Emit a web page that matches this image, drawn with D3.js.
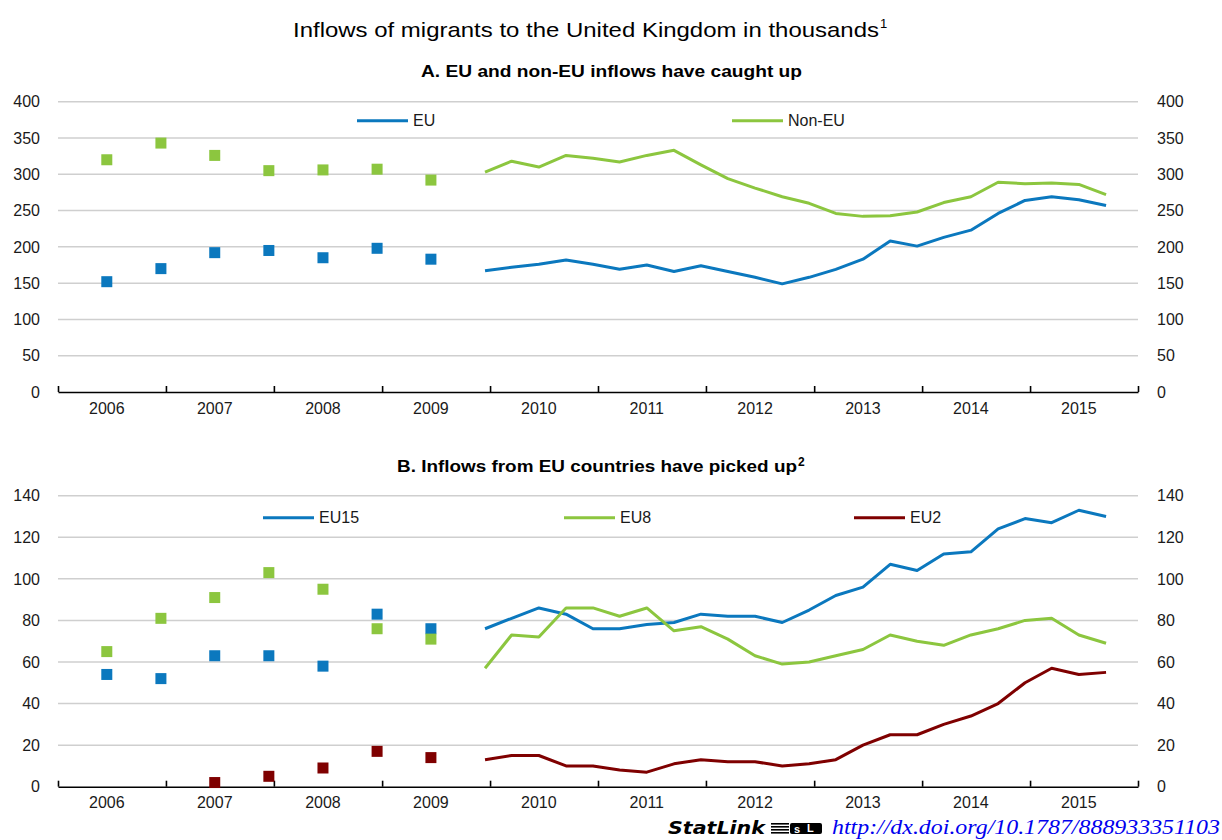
<!DOCTYPE html>
<html>
<head>
<meta charset="utf-8">
<script src="https://d3js.org/d3.v7.min.js"></script>
<style>
  body { margin: 0; background: #fff; }
  svg { display: block; font-family: "Liberation Sans", Arial, sans-serif; }
</style>
</head>
<body>
<div class="graphics"></div>
<script>
// periods: half-yearly squares first, then quarterly lines
var squarePeriods = ["2006-06", "2006-12", "2007-06", "2007-12", "2008-06", "2008-12", "2009-06"];
var linePeriods = ["2009-12",
  "2010-03", "2010-06", "2010-09", "2010-12",
  "2011-03", "2011-06", "2011-09", "2011-12",
  "2012-03", "2012-06", "2012-09", "2012-12",
  "2013-03", "2013-06", "2013-09", "2013-12",
  "2014-03", "2014-06", "2014-09", "2014-12",
  "2015-03", "2015-06", "2015-09"];
var years = [2006, 2007, 2008, 2009, 2010, 2011, 2012, 2013, 2014, 2015];

// Panel A
var euSquares = [152, 170, 192, 195, 185, 198, 183];
var nonEuSquares = [320, 343, 326, 305, 306, 307, 292];
var euLine = [167, 172, 176, 182, 176, 169, 175, 166, 174, 166, 158, 149,
  158, 169, 183, 208, 201, 213, 223, 246, 264, 269, 265, 257];
var nonEuLine = [303, 318, 310, 326, 322, 317, 326, 333, 313, 294, 281, 269,
  260, 246, 242, 243, 248, 261, 269, 289, 287, 288, 286, 272];
var ticksA = [0, 50, 100, 150, 200, 250, 300, 350, 400];

// Panel B
var eu15Squares = [54, 52, 63, 63, 58, 83, 76];
var eu8Squares = [65, 81, 91, 103, 95, 76, 71];
var eu2Squares = [null, null, 2, 5, 9, 17, 14];
var eu15Line = [76, 81, 86, 83, 76, 76, 78, 79, 83, 82, 82, 79,
  85, 92, 96, 107, 104, 112, 113, 124, 129, 127, 133, 130];
var eu8Line = [57, 73, 72, 86, 86, 82, 86, 75, 77, 71, 63, 59,
  60, 63, 66, 73, 70, 68, 73, 76, 80, 81, 73, 69];
var eu2Line = [13, 15, 15, 10, 10, 8, 7, 11, 13, 12, 12, 10,
  11, 13, 20, 25, 25, 30, 34, 40, 50, 57, 54, 55];
var ticksB = [0, 20, 40, 60, 80, 100, 120, 140];

var BLUE = "#0b78be", GREEN = "#8cc63f", RED = "#7f0000";

var W = 1222, H = 840;
var svg = d3.select(".graphics").append("svg")
  .attr("width", W).attr("height", H);

// each period sits at the middle of its month
function parsePeriod(p) {
  var parts = p.split("-");
  return new Date(+parts[0], +parts[1] - 1, 15);
}

var x = d3.scaleTime()
  .domain([new Date(2006, 0, 1), new Date(2016, 0, 1)])
  .range([58, 1138]);

// main title (narrow face in the original, so stretch it to its width)
svg.append("text")
  .attr("x", 293).attr("y", 37)
  .attr("textLength", 586).attr("lengthAdjust", "spacingAndGlyphs")
  .style("font-size", "21px")
  .text("Inflows of migrants to the United Kingdom in thousands");
svg.append("text")
  .attr("x", 880).attr("y", 28)
  .style("font-size", "13px")
  .text("1");

function panel(opts) {
  var y = d3.scaleLinear().domain(opts.domain).range([opts.bottom, opts.top]);
  var g = svg.append("g");

  g.append("text")
    .attr("x", opts.subX).attr("y", opts.subY)
    .attr("textLength", opts.subW).attr("lengthAdjust", "spacingAndGlyphs")
    .style("font-size", "17px").style("font-weight", "bold")
    .text(opts.subtitle);
  if (opts.sup) {
    g.append("text")
      .attr("x", opts.subX + opts.subW + 1).attr("y", opts.subY - 6)
      .style("font-size", "12px").style("font-weight", "bold")
      .text(opts.sup);
  }

  // gridlines
  g.selectAll(".grid")
    .data(opts.ticks.filter(function(d) { return d > 0; }))
    .enter().append("line")
    .attr("x1", x.range()[0]).attr("x2", x.range()[1])
    .attr("y1", function(d) { return y(d); })
    .attr("y2", function(d) { return y(d); })
    .attr("stroke", "#cfcfcf").attr("stroke-width", 1.5);

  // y labels both sides
  [{ xp: 40, anchor: "end" }, { xp: 1157, anchor: "start" }].forEach(function(side) {
    g.selectAll(null)
      .data(opts.ticks)
      .enter().append("text")
      .attr("x", side.xp)
      .attr("y", function(d) { return y(d); })
      .attr("dy", "0.36em")
      .attr("text-anchor", side.anchor)
      .style("font-size", "16px").style("fill", "#1a1a1a")
      .text(function(d) { return d; });
  });

  // x axis line with upward ticks at year boundaries
  var yearStarts = years.map(function(yr) { return new Date(yr, 0, 1); })
    .concat([new Date(2016, 0, 1)]);
  var ax = g.append("g")
    .attr("transform", "translate(0," + opts.bottom + ")")
    .call(d3.axisBottom(x).tickValues(yearStarts).tickSize(-6).tickSizeOuter(0).tickFormat(""));
  ax.select(".domain").attr("stroke", "#000").attr("stroke-width", 1.6);
  ax.selectAll(".tick line").attr("stroke", "#000").attr("stroke-width", 1.6);

  // year labels at mid-year
  g.selectAll(null)
    .data(years)
    .enter().append("text")
    .attr("x", function(d) { return x(new Date(d, 5, 15)); })
    .attr("y", opts.bottom + 16)
    .attr("dy", "0.36em")
    .attr("text-anchor", "middle")
    .style("font-size", "16px").style("fill", "#1a1a1a")
    .text(function(d) { return d; });

  var line = d3.line()
    .defined(function(d) { return d.v != null; })
    .x(function(d) { return x(parsePeriod(d.p)); })
    .y(function(d) { return y(d.v); });

  opts.series.forEach(function(s) {
    var pts = linePeriods.map(function(p, i) { return { p: p, v: s.line[i] }; });
    g.append("path")
      .datum(pts)
      .attr("d", line)
      .attr("fill", "none")
      .attr("stroke", s.color)
      .attr("stroke-width", 3)
      .attr("stroke-linejoin", "round");

    var sq = squarePeriods.map(function(p, i) { return { p: p, v: s.squares[i] }; })
      .filter(function(d) { return d.v != null; });
    g.selectAll(null)
      .data(sq)
      .enter().append("rect")
      .attr("x", function(d) { return x(parsePeriod(d.p)) - 5.5; })
      .attr("y", function(d) { return y(d.v) - 5.5; })
      .attr("width", 11).attr("height", 11)
      .attr("fill", s.color);

    // legend
    g.append("line")
      .attr("x1", s.lx).attr("x2", s.lx + 51)
      .attr("y1", opts.legendY).attr("y2", opts.legendY)
      .attr("stroke", s.color).attr("stroke-width", 3);
    g.append("text")
      .attr("x", s.lx + 56).attr("y", opts.legendY)
      .attr("dy", "0.36em")
      .style("font-size", "16px").style("fill", "#1a1a1a")
      .text(s.name);
  });
}

panel({
  domain: [0, 400], ticks: ticksA, top: 101.7, bottom: 392,
  subtitle: "A. EU and non-EU inflows have caught up", subX: 421, subW: 381, subY: 77,
  legendY: 120.7,
  series: [
    { name: "EU", color: BLUE, line: euLine, squares: euSquares, lx: 357 },
    { name: "Non-EU", color: GREEN, line: nonEuLine, squares: nonEuSquares, lx: 732 }
  ]
});

panel({
  domain: [0, 140], ticks: ticksB, top: 495.7, bottom: 786.7,
  subtitle: "B. Inflows from EU countries have picked up", sup: "2", subX: 397, subW: 400, subY: 472,
  legendY: 517.7,
  series: [
    { name: "EU15", color: BLUE, line: eu15Line, squares: eu15Squares, lx: 263 },
    { name: "EU8", color: GREEN, line: eu8Line, squares: eu8Squares, lx: 564 },
    { name: "EU2", color: RED, line: eu2Line, squares: eu2Squares, lx: 854 }
  ]
});

// StatLink footer
var foot = svg.append("g");
foot.append("text")
  .attr("x", 668).attr("y", 834)
  .attr("textLength", 97).attr("lengthAdjust", "spacingAndGlyphs")
  .style("font-family", "'DejaVu Sans', sans-serif")
  .style("font-size", "17px").style("font-weight", "bold").style("font-style", "italic")
  .text("StatLink");
var icon = foot.append("g").attr("transform", "translate(771,823)");
[0, 3, 6, 9].forEach(function(dy) {
  icon.append("rect").attr("x", 0).attr("y", dy).attr("width", 18).attr("height", 1.6).attr("fill", "#000");
});
icon.append("rect").attr("x", 19).attr("y", 0).attr("width", 32).attr("height", 11).attr("rx", 2).attr("fill", "#000");
icon.append("text").attr("x", 23).attr("y", 10)
  .style("font-size", "11px").style("font-weight", "bold").style("fill", "#fff").text("s");
icon.append("text").attr("x", 36).attr("y", 9)
  .style("font-size", "11px").style("font-weight", "bold").style("fill", "#fff").text("L");
foot.append("text")
  .attr("x", 832).attr("y", 834)
  .attr("textLength", 388).attr("lengthAdjust", "spacingAndGlyphs")
  .style("font-family", "'Liberation Serif', 'Times New Roman', serif")
  .style("font-size", "22px").style("font-style", "italic")
  .style("fill", "#0000ee")
  .text("http://dx.doi.org/10.1787/888933351103");
</script>
</body>
</html>
